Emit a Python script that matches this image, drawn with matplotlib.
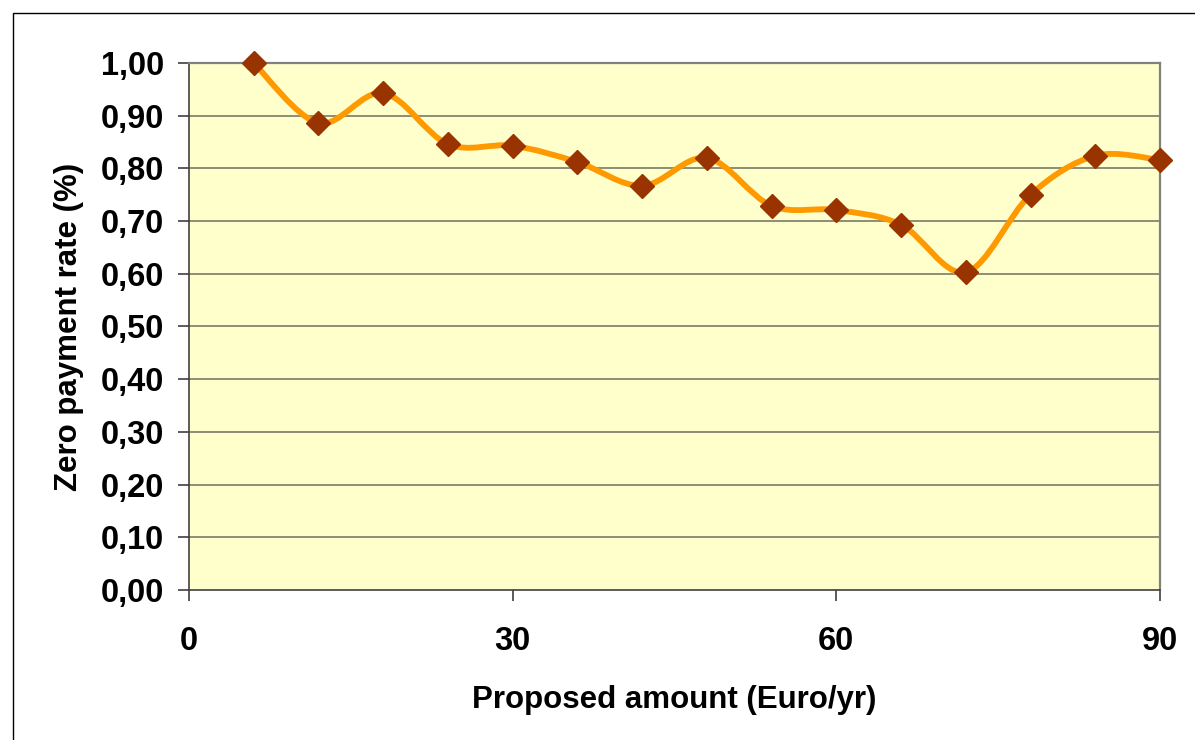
import matplotlib
matplotlib.use("Agg")
import matplotlib.pyplot as plt
import numpy as np
from matplotlib.path import Path
from matplotlib.patches import PathPatch, Rectangle
from matplotlib.ticker import FuncFormatter

AMOUNTS = [6, 12, 18, 24, 30, 36, 42, 48, 54, 60, 66, 72, 78, 84, 90]
ZERO_RATE = [1.00, 0.886, 0.943, 0.846, 0.843, 0.812, 0.767, 0.820,
             0.729, 0.721, 0.693, 0.603, 0.750, 0.824, 0.816]
X_TICKS = [0, 30, 60, 90]
Y_TICKS = [0.0, 0.1, 0.2, 0.3, 0.4, 0.5, 0.6, 0.7, 0.8, 0.9, 1.0]

FONT = "Liberation Sans"


def smooth_path(xs, ys):
    # excel style smoothed line: cubic bezier through every point
    pts = np.column_stack([xs, ys])
    n = len(pts)
    verts = [pts[0]]
    codes = [Path.MOVETO]
    for i in range(n - 1):
        p0 = pts[i - 1] if i > 0 else pts[i]
        p1 = pts[i]
        p2 = pts[i + 1]
        p3 = pts[i + 2] if i + 2 < n else pts[i + 1]
        c1 = p1 + (p2 - p0) / 6.0
        c2 = p2 - (p3 - p1) / 6.0
        verts += [c1, c2, p2]
        codes += [Path.CURVE4] * 3
    return Path(verts, codes)


fig = plt.figure(figsize=(11.95, 7.4), dpi=100)
fig.patches.append(Rectangle((13 / 1195, -0.1), 1.2, 1 - 13 / 740 + 0.1,
                             transform=fig.transFigure, fill=False,
                             edgecolor="black", linewidth=1.0))

ax = fig.add_axes([189 / 1195, 1 - 590 / 740, (1160 - 189) / 1195, (590 - 63) / 740])
ax.set_facecolor("#FFFFCC")
ax.set_xlim(0, 90)
ax.set_ylim(0, 1.0)

for y in Y_TICKS[1:]:
    ax.axhline(y, color="#7a7a6a", linewidth=1.2, zorder=1)

ax.add_patch(PathPatch(smooth_path(AMOUNTS, ZERO_RATE), fill=False,
                       edgecolor="#FF9900", linewidth=4.2, zorder=3,
                       capstyle="round", joinstyle="round"))
ax.plot(AMOUNTS, ZERO_RATE, linestyle="none", marker="D", markersize=12.5,
        color="#993300", zorder=4, clip_on=False)

for side in ["top", "right"]:
    ax.spines[side].set_color("#808080")
    ax.spines[side].set_linewidth(1.6)
for side in ["left", "bottom"]:
    ax.spines[side].set_color("#404040")
    ax.spines[side].set_linewidth(1.2)

ax.set_xticks(X_TICKS)
ax.set_yticks(Y_TICKS)
ax.yaxis.set_major_formatter(FuncFormatter(lambda v, p: ("%.2f" % v).replace(".", ",")))
ax.tick_params(direction="out", length=8, width=1.2, color="#404040", labelsize=23.5)
ax.tick_params(axis="x", pad=18)
ax.tick_params(axis="y", pad=10)
for lab in ax.get_xticklabels() + ax.get_yticklabels():
    lab.set_fontfamily(FONT)
    lab.set_fontweight("bold")

ax.set_xlabel("Proposed amount (Euro/yr)", fontsize=22.5, fontweight="bold",
              family=FONT, labelpad=20)
ax.set_ylabel("Zero payment rate (%)", fontsize=22.5, fontweight="bold",
              family=FONT, labelpad=12)

fig.savefig("out.png", dpi=100)
